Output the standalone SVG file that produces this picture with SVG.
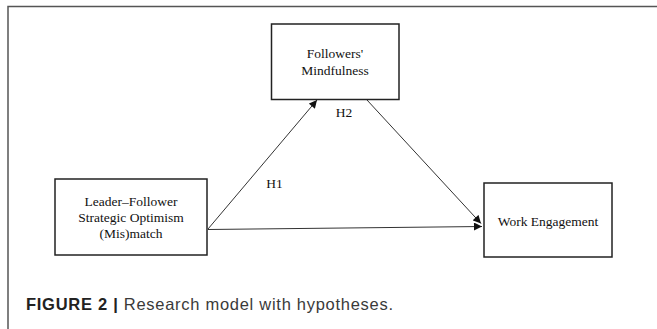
<svg xmlns="http://www.w3.org/2000/svg" width="657" height="329" viewBox="0 0 657 329">
<style>
.box{fill:#fff;stroke:#222;stroke-width:1.5}
.t{font-family:"Liberation Serif","Times New Roman",serif;font-size:13.5px;fill:#111;text-anchor:middle}
.ln{fill:none;stroke:#333;stroke-width:1}
.cap{font-family:"Liberation Sans",Arial,sans-serif;font-size:16.5px;fill:#3a3a3a}
</style>
<defs>
<marker id="ah" viewBox="0 0 10 10" refX="10" refY="5" markerWidth="9" markerHeight="8" markerUnits="userSpaceOnUse" orient="auto">
<path d="M0,0 L10,5 L0,10 z" fill="#111"/>
</marker>
</defs>
<rect x="8" y="6.5" width="660" height="340" fill="none" stroke="#555" stroke-width="1.5"/>
<g id="connectors">
<line class="ln" x1="208" y1="229" x2="317" y2="100" marker-end="url(#ah)"/>
<line class="ln" x1="367" y1="100" x2="481" y2="223.5" marker-end="url(#ah)"/>
<line class="ln" x1="208" y1="229.5" x2="482" y2="226.5" marker-end="url(#ah)"/>
<text class="t" x="274.5" y="187.5">H1</text>
<text class="t" x="344" y="116.5">H2</text>
</g>
<g id="leader">
<rect class="box" x="55" y="179" width="152" height="76"/>
<text class="t" x="131" y="205.5">Leader–Follower</text>
<text class="t" x="131" y="221.5">Strategic Optimism</text>
<text class="t" x="131" y="237.5">(Mis)match</text>
</g>
<g id="mindfulness">
<rect class="box" x="271.5" y="24" width="127.5" height="75.5"/>
<text class="t" x="335" y="58">Followers'</text>
<text class="t" x="335" y="75">Mindfulness</text>
</g>
<g id="engagement">
<rect class="box" x="484" y="183" width="128" height="74"/>
<text class="t" x="548" y="225.5">Work Engagement</text>
</g>
<text class="cap" x="26" y="310" textLength="367" lengthAdjust="spacing"><tspan font-weight="bold" fill="#222">FIGURE 2 | </tspan>Research model with hypotheses.</text>
</svg>
